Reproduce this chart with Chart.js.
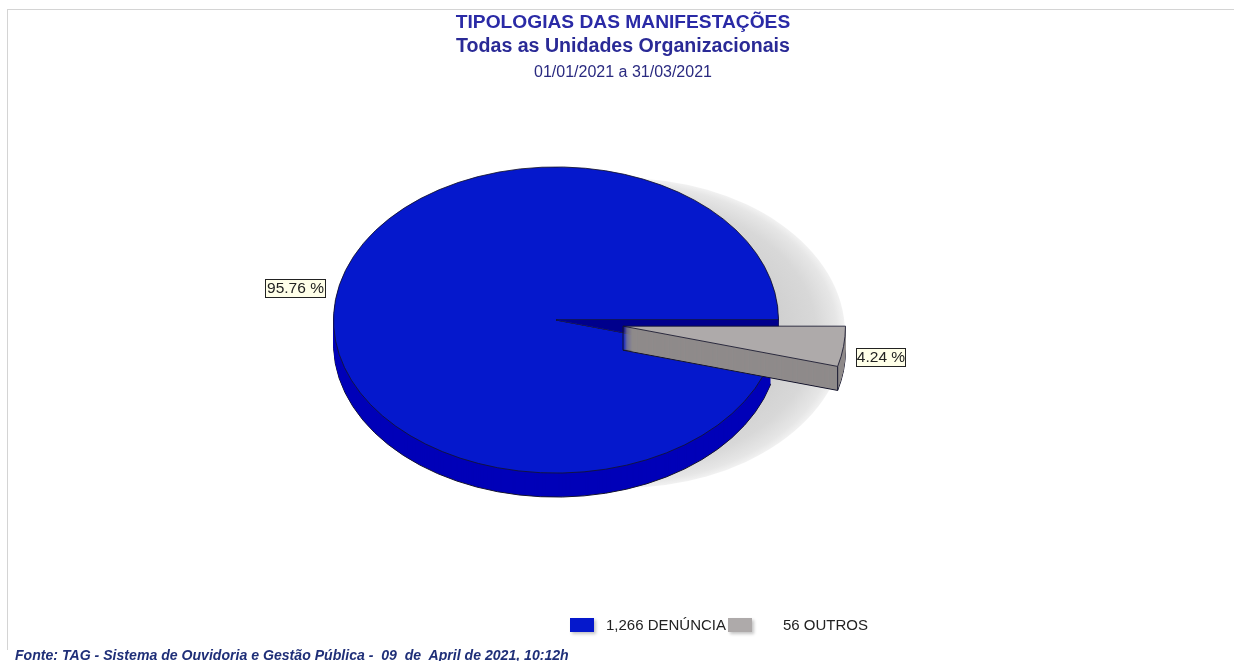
<!DOCTYPE html>
<html>
<head>
<meta charset="utf-8">
<title>Tipologias das Manifestações</title>
<script src="https://cdn.jsdelivr.net/npm/chart.js@4/dist/chart.umd.min.js"></script>
<style>
  html, body { margin: 0; padding: 0; background: #fff; overflow: hidden; }
  #page { position: relative; width: 1234px; height: 661px; font-family: "Liberation Sans", Arial, sans-serif; overflow: hidden; }
  #frame { position: absolute; left: 7px; top: 9px; right: 0; bottom: 11px; border-left: 1px solid #d4d4d4; border-top: 1px solid #d4d4d4; }
  #chart { position: absolute; left: 0; top: 0; }
  .head { position: absolute; left: 423px; width: 400px; text-align: center; white-space: nowrap; }
  #t1 { top: 11px; font-size: 19.2px; font-weight: bold; color: #2a2aa6; }
  #t2 { top: 34px; font-size: 19.6px; font-weight: bold; color: #2a2a96; }
  #t3 { top: 63px; font-size: 16px; color: #2a2a80; }
  #fonte { position: absolute; left: 15px; top: 647px; font-size: 14.1px; font-weight: bold; font-style: italic; color: #1f2f78; white-space: pre; }
  .box { position: absolute; top: 618px; height: 14px; }
  .leg { position: absolute; top: 616px; font-size: 15px; color: #222; white-space: nowrap; }
</style>
</head>
<body>
<div id="page">
  <div id="frame"></div>
  <canvas id="chart" width="1234" height="661"></canvas>
  <div class="head" id="t1">TIPOLOGIAS DAS MANIFESTAÇÕES</div>
  <div class="head" id="t2">Todas as Unidades Organizacionais</div>
  <div class="head" id="t3">01/01/2021 a 31/03/2021</div>
  <div id="legend"></div>
  <div id="fonte">Fonte: TAG - Sistema de Ouvidoria e Gestão Pública -  09  de  April de 2021, 10:12h</div>
</div>
<script>
const CATEGORIES = ["DENÚNCIA", "OUTROS"];
const VALUES = [1266, 56];

const TOP_COLORS = ["#0518cc", "#aeaaaa"];
const WALL_COLORS = ["#0000b8", "#8f8b8b"];
const NOTCH_COLOR = "#00008c";
const LINE_COLOR = "#14142c";

const SQUASH = 0.688;   // pie is tilted: y radius / x radius
const DEPTH = 24;
const RADIUS = 222.5;
const EXPLODE = 67.6;   // how far the small slice is pulled out

const total = VALUES.reduce((a, b) => a + b, 0);

// everything is drawn in a squashed space round the pie centre
function tilt(ctx, el, dy) {
  ctx.translate(el.x, el.y + (dy || 0));
  ctx.scale(1, SQUASH);
  ctx.translate(-el.x, -el.y);
}

function pullOut(el) {
  const mid = (el.startAngle + el.endAngle) / 2;
  return { x: Math.cos(mid) * EXPLODE, y: Math.sin(mid) * EXPLODE };
}

function sector(ctx, el, dy, fill, exploded, outline) {
  const o = exploded ? pullOut(el) : { x: 0, y: 0 };
  ctx.save();
  tilt(ctx, el, dy);
  ctx.beginPath();
  ctx.moveTo(el.x + o.x, el.y + o.y);
  ctx.arc(el.x + o.x, el.y + o.y, el.outerRadius, el.startAngle, el.endAngle);
  ctx.closePath();
  ctx.fillStyle = fill;
  ctx.fill();
  ctx.restore();
  if (outline) {
    ctx.save();
    tilt(ctx, el, dy);
    ctx.beginPath();
    ctx.moveTo(el.x + o.x, el.y + o.y);
    ctx.arc(el.x + o.x, el.y + o.y, el.outerRadius, el.startAngle, el.endAngle);
    ctx.closePath();
    ctx.restore();
    ctx.strokeStyle = outline;
    ctx.lineWidth = 1;
    ctx.stroke();
  }
}

function wall(ctx, el, color, exploded) {
  sector(ctx, el, DEPTH, color, exploded, LINE_COLOR);
  for (let d = DEPTH - 1; d >= 1; d--) sector(ctx, el, d, color, exploded);
}

// upright edges of the pulled out slice
function sliceEdges(ctx, el) {
  const o = pullOut(el);
  const ax = el.x + o.x, ay = el.y + o.y * SQUASH;
  const ex = ax + Math.cos(el.endAngle) * el.outerRadius;
  const ey = ay + Math.sin(el.endAngle) * el.outerRadius * SQUASH;
  ctx.save();
  ctx.strokeStyle = LINE_COLOR;
  ctx.lineWidth = 1;
  ctx.beginPath();
  ctx.moveTo(ax, ay);
  ctx.lineTo(ax, ay + DEPTH);
  ctx.moveTo(ex, ey);
  ctx.lineTo(ex, ey + DEPTH);
  ctx.stroke();
  ctx.restore();
}

function drawShadow(ctx, el) {
  const cx = el.x + 66, cy = el.y + 13;
  ctx.save();
  ctx.translate(cx, cy);
  ctx.scale(1, 155 / 223);
  const grad = ctx.createRadialGradient(0, 0, 120, 0, 0, 223);
  grad.addColorStop(0, "#c8c8c8");
  grad.addColorStop(0.72, "#d8d8d8");
  grad.addColorStop(0.92, "#e6e6e6");
  grad.addColorStop(1, "#f2f2f2");
  ctx.fillStyle = grad;
  ctx.beginPath();
  ctx.arc(0, 0, 223, 0, Math.PI * 2);
  ctx.fill();
  ctx.restore();
}

function drawLabel(ctx, el, text, exploded) {
  const mid = (el.startAngle + el.endAngle) / 2;
  const o = exploded ? pullOut(el) : { x: 0, y: 0 };
  const px = el.x + o.x + Math.cos(mid) * el.outerRadius;
  const py = el.y + (o.y + Math.sin(mid) * el.outerRadius) * SQUASH;
  const right = Math.cos(mid) > 0;
  const w = right ? 49 : 60, h = 18;
  const left = Math.round(right ? px + 12 : px - 10 - w);
  const top = Math.round(py + (Math.sin(mid) > 0 ? 11 : -12) - h / 2);
  ctx.save();
  ctx.fillStyle = "#ffffe8";
  ctx.strokeStyle = "#222";
  ctx.lineWidth = 1;
  ctx.fillRect(left + 0.5, top + 0.5, w, h);
  ctx.strokeRect(left + 0.5, top + 0.5, w, h);
  ctx.fillStyle = "#222";
  ctx.font = '15.5px "Liberation Sans", Arial, sans-serif';
  ctx.textAlign = "center";
  ctx.textBaseline = "middle";
  ctx.fillText(text, left + w / 2 + 0.5, top + h / 2 + 1);
  ctx.restore();
}

const pie3d = {
  id: "pie3d",
  beforeDatasetDraw(chart) {
    const ctx = chart.ctx;
    const [big] = chart.getDatasetMeta(0).data;
    drawShadow(ctx, big);
    wall(ctx, big, WALL_COLORS[0], false);
    ctx.save();
    tilt(ctx, big);
  },
  afterDatasetDraw(chart) {
    const ctx = chart.ctx;
    ctx.restore();
    const [big, small] = chart.getDatasetMeta(0).data;
    // open notch left behind by the pulled out slice
    sector(ctx, small, 0, NOTCH_COLOR, false);
    wall(ctx, small, WALL_COLORS[1], true);
    sliceEdges(ctx, small);
    const o = pullOut(small);
    ctx.save();
    tilt(ctx, small);
    ctx.translate(o.x, o.y);
    small.draw(ctx);
    ctx.restore();
    const pct = VALUES.map((v) => ((v / total) * 100).toFixed(2) + " %");
    drawLabel(ctx, big, pct[0], false);
    drawLabel(ctx, small, pct[1], true);
  },
};

new Chart(document.getElementById("chart"), {
  type: "pie",
  data: {
    labels: CATEGORIES,
    datasets: [
      {
        data: VALUES,
        backgroundColor: TOP_COLORS,
        borderColor: LINE_COLOR,
        borderWidth: 1,
        radius: RADIUS,
      },
    ],
  },
  options: {
    responsive: false,
    animation: false,
    rotation: 90 + (VALUES[1] / total) * 360,
    layout: { padding: { left: 0, right: 122, top: 0, bottom: 21 } },
    plugins: { legend: { display: false }, title: { display: false }, tooltip: { enabled: false } },
  },
  plugins: [pie3d],
});

// legend is laid out by hand, the gap after the second swatch is in the original
const legendSlots = [
  { boxLeft: 570, boxWidth: 24, textLeft: 606, text: VALUES[0].toLocaleString("en-US") + " " + CATEGORIES[0] },
  { boxLeft: 728, boxWidth: 24, textLeft: 783, text: VALUES[1] + " " + CATEGORIES[1] },
];
const legend = document.getElementById("legend");
legendSlots.forEach((s, i) => {
  const box = document.createElement("div");
  box.className = "box";
  box.style.left = s.boxLeft + "px";
  box.style.width = s.boxWidth + "px";
  box.style.background = TOP_COLORS[i];
  box.style.boxShadow = "2px 2px 3px #c4c4c4";
  legend.appendChild(box);
  const txt = document.createElement("div");
  txt.className = "leg";
  txt.style.left = s.textLeft + "px";
  txt.textContent = s.text;
  legend.appendChild(txt);
});
</script>
</body>
</html>
